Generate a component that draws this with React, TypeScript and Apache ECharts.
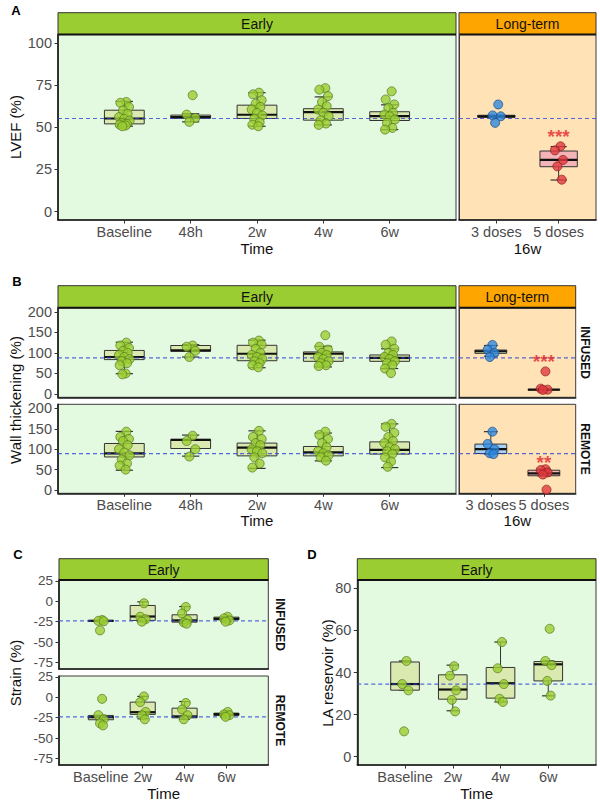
import React, { useEffect, useRef } from 'react';
import * as echarts from 'echarts';

// ---------- categories ----------
const EARLY_AB = ['Baseline', '48h', '2w', '4w', '6w'];
const EARLY_CD = ['Baseline', '2w', '4w', '6w'];
const LONG = ['3 doses', '5 doses'];

// ---------- box stats: [lowWhisker, q1, median, q3, highWhisker] ----------
const A_EARLY_BOX = [
  [50.6, 52, 55.2, 60.1, 65.3],
  [53.2, 55.3, 56, 57.2, 58],
  [50.6, 55.2, 57.4, 63.1, 70.5],
  [51.4, 54.2, 59, 61, 68],
  [48.6, 54, 56.6, 59.2, 63.3],
];
const A_LONG_BOX = [
  [56, 55.9, 56.4, 57.1, 57.1],
  [18.7, 26.6, 30.6, 35.9, 38.5],
];
const B_INF_EARLY_BOX = [
  [49.5, 83.7, 90, 106, 126],
  [90, 104, 106.3, 118, 120],
  [64, 81, 98, 118.5, 131],
  [66, 79.5, 98, 102.4, 116],
  [62, 79.5, 88, 95, 110],
];
const B_INF_LONG_BOX = [
  [92, 99, 104, 107, 118],
  [10, 10, 10.5, 11, 11],
];
const B_REM_EARLY_BOX = [
  [48.5, 81, 90, 114, 143.6],
  [83, 101.7, 123, 124, 134.6],
  [53, 83.7, 104, 115, 145],
  [71.4, 83.7, 92, 106.7, 139.6],
  [55, 88, 98.5, 118, 162],
];
const B_REM_LONG_BOX = [
  [88, 89.5, 100, 112.5, 143],
  [35, 35, 41, 48.5, 51],
];
const C_INF_BOX = [
  [-24.5, -24.5, -24, -23.5, -23.5],
  [-25, -23.5, -18.7, -5.2, -0.8],
  [-27, -25.6, -23.5, -16.6, -6.5],
  [-25, -22.7, -21.5, -19.5, -19],
];
const C_REM_BOX = [
  [-27.6, -27.6, -24.4, -22.3, -22.3],
  [-26.4, -21, -18.3, -6, 1],
  [-27, -25.2, -23.5, -13.4, -5.3],
  [-22.3, -22.3, -20.7, -19.5, -18],
];
const D_BOX = [
  [31.6, 31.6, 34.5, 45, 45.5],
  [21.8, 27.3, 31.9, 38.9, 43.5],
  [26, 27.8, 34.9, 42.4, 54.5],
  [28.9, 36, 43.9, 45.2, 45.5],
];

// ---------- individual points ----------
const A_EARLY_PTS = [
  [65, 64.5, 62, 60, 58, 56, 55, 54, 52.5, 52, 51.5, 51, 50.6],
  [69, 57.5, 55.5, 53.2],
  [70.5, 69.5, 66, 64, 62, 60.5, 58.5, 57, 55, 53, 51.5, 50.6],
  [73.2, 72.3, 68.5, 65, 62.5, 60.5, 58.6, 56.5, 54.2, 52.2, 51.4],
  [71.3, 66.5, 63.5, 61.5, 58.6, 57.5, 56.5, 54.6, 52.6, 49.6, 48.6],
];
const A_LONG_PTS = [
  [63.5, 57, 56.5, 52.6],
  [38.7, 36.3, 30.6, 26.8, 18.9],
];
const B_INF_EARLY_PTS = [
  [125, 118, 112, 105, 100, 95, 90, 85, 80, 75, 70, 50, 48],
  [118, 115, 105, 90],
  [130, 125, 120, 110, 100, 95, 90, 85, 80, 75, 70, 65],
  [143, 115, 108, 100, 95, 90, 85, 80, 75, 70, 68],
  [128, 120, 110, 100, 95, 90, 85, 80, 75, 70, 62, 51],
];
const B_INF_LONG_PTS = [
  [119.5, 108, 100, 90],
  [55, 13, 10.5, 10],
];
const B_REM_EARLY_PTS = [
  [143, 130, 125, 120, 110, 100, 92, 85, 75, 65, 60, 50],
  [133, 120, 100, 82],
  [145, 130, 125, 115, 110, 100, 95, 90, 80, 65, 55],
  [143, 135, 125, 115, 105, 95, 90, 85, 80, 72],
  [162, 155, 140, 130, 120, 115, 105, 100, 95, 88, 80, 70, 57],
];
const B_REM_LONG_PTS = [
  [143, 113, 100, 90, 88],
  [51, 49, 43, 38, 1],
];
const C_INF_PTS = [
  [-23, -24, -24.5, -35.7],
  [-2.5, -19, -22, -25],
  [-7, -15, -23, -26, -27.5],
  [-19, -21, -23.5, -25],
];
const C_REM_PTS = [
  [-2, -22, -27, -32, -34.5],
  [1, -6, -18, -22, -27],
  [-7, -15, -22, -27],
  [-18, -21, -22, -24],
];
const D_PTS = [
  [45.5, 34.5, 31.5, 12],
  [43, 38.5, 31.5, 27, 21.5],
  [54.5, 42, 34.5, 27.5, 26],
  [60.8, 45.5, 43.5, 36, 29],
];

// ---------- reference lines & significance ----------
const REF_A = 55.2;
const REF_B_INF = 88;
const REF_B_REM = 89;
const REF_C = -24;
const REF_D = 34.5;
const STARS_A = { cat: 2, y: 46.6, text: '***' };
const STARS_B_INF = { cat: 2, y: 89, text: '***' };
const STARS_B_REM = { cat: 2, y: 78, text: '**' };

// ---------- tick values ----------
const TICKS_A = [0, 25, 50, 75, 100];
const TICKS_B = [0, 50, 100, 150, 200];
const TICKS_C = [-75, -50, -25, 0, 25];
const TICKS_D = [0, 20, 40, 60, 80];

// ---------- styling ----------
const FONT = '"Liberation Sans", Arial, Helvetica, sans-serif';
const EARLY_BG = '#E4FAE0';
const LONG_BG = '#FFE3B6';
const GREEN = '#9ACD32';
const ORANGE = '#FFA500';
const GREEN_BOX = '#D9E9B0';
const BLUE_BOX = '#A9D3F5';
const RED_BOX = '#F4B4B7';
const GREEN_PT = { color: '#9ACD32', borderColor: '#55761c' };
const BLUE_PT = { color: '#2E88DE', borderColor: '#1b4a80' };
const RED_PT = { color: '#E0393E', borderColor: '#8b1a1a' };
const JITTER = [0.03, -0.06, 0.07, -0.02, 0.05, -0.08, 0.0, 0.08, -0.04, 0.04, -0.07, 0.02, -0.03];

type Panel = {
  rect: [number, number, number, number];
  cats: string[];
  xMin: number;
  xMax: number;
  yMin: number;
  yMax: number;
  yTicks: number[];
  yLabelSize?: number;
  box: number[][];
  pts: number[][];
  ref: number;
  bg: string;
  boxFills: string[];
  ptStyles: { color: string; borderColor: string }[];
  showX: boolean;
  xName?: string;
  xNameGap?: number;
  stars?: { cat: number; y: number; text: string };
};

function buildOption() {
  const grids: any[] = [];
  const xAxes: any[] = [];
  const yAxes: any[] = [];
  const series: any[] = [];

  const greens5 = [GREEN_BOX, GREEN_BOX, GREEN_BOX, GREEN_BOX, GREEN_BOX];
  const gpts5 = [GREEN_PT, GREEN_PT, GREEN_PT, GREEN_PT, GREEN_PT];

  const panels: Panel[] = [
    { rect: [58, 34.5, 398, 185.5], cats: EARLY_AB, xMin: 0, xMax: 6, yMin: -5, yMax: 105, yTicks: TICKS_A, box: A_EARLY_BOX, pts: A_EARLY_PTS, ref: REF_A, bg: EARLY_BG, boxFills: greens5, ptStyles: gpts5, showX: true, xName: 'Time', xNameGap: 21 },
    { rect: [459, 34.5, 137, 185.5], cats: LONG, xMin: 0.4, xMax: 2.6, yMin: -5, yMax: 105, yTicks: [], box: A_LONG_BOX, pts: A_LONG_PTS, ref: REF_A, bg: LONG_BG, boxFills: [GREEN_BOX, RED_BOX], ptStyles: [BLUE_PT, RED_PT], showX: true, xName: '16w', xNameGap: 21, stars: STARS_A },
    { rect: [58, 307.7, 398, 89.6], cats: EARLY_AB, xMin: 0, xMax: 6, yMin: -8, yMax: 210, yTicks: TICKS_B, box: B_INF_EARLY_BOX, pts: B_INF_EARLY_PTS, ref: REF_B_INF, bg: EARLY_BG, boxFills: greens5, ptStyles: gpts5, showX: false },
    { rect: [459, 307.7, 116.7, 89.6], cats: LONG, xMin: 0.4, xMax: 2.6, yMin: -8, yMax: 210, yTicks: [], box: B_INF_LONG_BOX, pts: B_INF_LONG_PTS, ref: REF_B_INF, bg: LONG_BG, boxFills: [GREEN_BOX, RED_BOX], ptStyles: [BLUE_PT, RED_PT], showX: false, stars: STARS_B_INF },
    { rect: [58, 404.3, 398, 89], cats: EARLY_AB, xMin: 0, xMax: 6, yMin: -8, yMax: 210, yTicks: TICKS_B, box: B_REM_EARLY_BOX, pts: B_REM_EARLY_PTS, ref: REF_B_REM, bg: EARLY_BG, boxFills: greens5, ptStyles: gpts5, showX: true, xName: 'Time', xNameGap: 19 },
    { rect: [459, 404.3, 116.7, 89], cats: LONG, xMin: 0.4, xMax: 2.6, yMin: -8, yMax: 210, yTicks: [], box: B_REM_LONG_BOX, pts: B_REM_LONG_PTS, ref: REF_B_REM, bg: LONG_BG, boxFills: [BLUE_BOX, RED_BOX], ptStyles: [BLUE_PT, RED_PT], showX: true, xName: '16w', xNameGap: 19, stars: STARS_B_REM },
    { rect: [59, 580, 209.3, 89], cats: EARLY_CD, xMin: 0, xMax: 5, yMin: -83, yMax: 26, yTicks: TICKS_C, yLabelSize: 13.5, box: C_INF_BOX, pts: C_INF_PTS, ref: REF_C, bg: EARLY_BG, boxFills: greens5, ptStyles: gpts5, showX: false },
    { rect: [59, 676, 209.3, 89], cats: EARLY_CD, xMin: 0, xMax: 5, yMin: -83, yMax: 26, yTicks: TICKS_C, yLabelSize: 13.5, box: C_REM_BOX, pts: C_REM_PTS, ref: REF_C, bg: EARLY_BG, boxFills: greens5, ptStyles: gpts5, showX: true, xName: 'Time', xNameGap: 21 },
    { rect: [357.3, 580, 238.7, 185], cats: EARLY_CD, xMin: 0, xMax: 5, yMin: -4, yMax: 84, yTicks: TICKS_D, box: D_BOX, pts: D_PTS, ref: REF_D, bg: EARLY_BG, boxFills: greens5, ptStyles: gpts5, showX: true, xName: 'Time', xNameGap: 21 },
  ];

  panels.forEach((p, i) => {
    const [left, top, width, height] = p.rect;
    grids.push({
      left, top, width, height,
      show: true,
      backgroundColor: p.bg,
      borderColor: '#3a3a3a',
      borderWidth: 1,
      containLabel: false,
      outerBoundsMode: 'none',
    });
    const catTicks = p.cats.map((_, k) => k + 1);
    xAxes.push({
      type: 'value',
      gridIndex: i,
      min: p.xMin,
      max: p.xMax,
      splitLine: { show: false },
      axisLine: { show: true, onZero: false, lineStyle: { color: '#1a1a1a', width: 1.6 } },
      axisTick: { show: p.showX, customValues: catTicks, length: 3.5, lineStyle: { color: '#333' } },
      axisLabel: {
        show: p.showX,
        customValues: catTicks,
        formatter: (v: number) => p.cats[Math.round(v) - 1] ?? '',
        margin: 4,
        fontSize: 14.5,
        color: '#4d4d4d',
        fontFamily: FONT,
      },
      name: p.xName || '',
      nameLocation: 'middle',
      nameGap: p.xNameGap || 20,
      nameTextStyle: { fontSize: 15, color: '#111', fontFamily: FONT },
    });
    const hasY = p.yTicks.length > 0;
    const ySize = p.yLabelSize || 14.5;
    yAxes.push({
      type: 'value',
      gridIndex: i,
      min: p.yMin,
      max: p.yMax,
      splitLine: { show: false },
      axisLine: { show: true, onZero: false, lineStyle: { color: hasY ? '#1a1a1a' : '#3a3a3a', width: hasY ? 1.6 : 1 } },
      axisTick: { show: hasY, customValues: p.yTicks, length: 3.5, lineStyle: { color: '#333' } },
      axisLabel: {
        show: hasY,
        customValues: p.yTicks,
        margin: 6,
        fontSize: ySize,
        lineHeight: ySize - 1.5,
        color: '#4d4d4d',
        fontFamily: FONT,
      },
    });

    // boxes
    const fills = p.boxFills;
    series.push({
      type: 'custom',
      xAxisIndex: i,
      yAxisIndex: i,
      silent: true,
      z: 2,
      data: p.box.map((b, k) => [k + 1, ...b]),
      encode: { x: 0, y: [1, 2, 3, 4, 5] },
      renderItem: (params: any, api: any) => {
        const x = api.value(0);
        const lo = api.coord([x, api.value(1)]);
        const q1 = api.coord([x, api.value(2)]);
        const md = api.coord([x, api.value(3)]);
        const q3 = api.coord([x, api.value(4)]);
        const hi = api.coord([x, api.value(5)]);
        const bw = api.size([0.6, 0])[0];
        const cw = api.size([0.26, 0])[0];
        const cx = lo[0];
        const stroke = '#333';
        const fill = fills[Math.round(x) - 1];
        return {
          type: 'group',
          children: [
            { type: 'line', shape: { x1: cx, y1: hi[1], x2: cx, y2: q3[1] }, style: { stroke, lineWidth: 1 } },
            { type: 'line', shape: { x1: cx, y1: q1[1], x2: cx, y2: lo[1] }, style: { stroke, lineWidth: 1 } },
            { type: 'line', shape: { x1: cx - cw / 2, y1: hi[1], x2: cx + cw / 2, y2: hi[1] }, style: { stroke, lineWidth: 1.2 } },
            { type: 'line', shape: { x1: cx - cw / 2, y1: lo[1], x2: cx + cw / 2, y2: lo[1] }, style: { stroke, lineWidth: 1.2 } },
            { type: 'rect', shape: { x: cx - bw / 2, y: q3[1], width: bw, height: Math.max(q1[1] - q3[1], 0.5) }, style: { fill, stroke, lineWidth: 1 } },
            { type: 'line', shape: { x1: cx - bw / 2, y1: md[1], x2: cx + bw / 2, y2: md[1] }, style: { stroke: '#111', lineWidth: 2.2 } },
          ],
        };
      },
    });

    // reference dashed line
    series.push({
      type: 'line',
      xAxisIndex: i,
      yAxisIndex: i,
      silent: true,
      z: 3,
      symbol: 'none',
      data: [[p.xMin, p.ref], [p.xMax, p.ref]],
      lineStyle: { color: 'rgba(45,70,215,0.8)', width: 1.2, type: [4, 3] },
    });

    // points
    const ptsData: any[] = [];
    p.pts.forEach((arr, k) => {
      arr.forEach((v, j) => {
        const st = p.ptStyles[k];
        ptsData.push({
          value: [k + 1 + JITTER[j % JITTER.length], v],
          itemStyle: { color: st.color, borderColor: st.borderColor, borderWidth: 0.9 },
        });
      });
    });
    series.push({
      type: 'scatter',
      xAxisIndex: i,
      yAxisIndex: i,
      silent: true,
      z: 4,
      symbol: 'circle',
      symbolSize: 9,
      data: ptsData,
    });

    if (p.stars) {
      series.push({
        type: 'scatter',
        xAxisIndex: i,
        yAxisIndex: i,
        silent: true,
        z: 5,
        symbol: 'circle',
        symbolSize: 1,
        itemStyle: { color: 'transparent' },
        data: [[p.stars.cat, p.stars.y]],
        label: {
          show: true,
          position: 'inside',
          offset: [0, 4],
          formatter: p.stars.text,
          color: '#E3262C',
          fontSize: 19,
          fontWeight: 'bold',
          fontFamily: FONT,
        },
      });
    }
  });

  // strips & titles
  const strip = (x: number, y: number, w: number, h: number, fill: string, text: string) => ({
    type: 'group',
    children: [
      { type: 'rect', shape: { x, y, width: w, height: h }, style: { fill, stroke: '#333', lineWidth: 1 } },
      { type: 'line', shape: { x1: x, y1: y + h, x2: x + w, y2: y + h }, style: { stroke: '#111', lineWidth: 2 } },
      { type: 'text', x: x + w / 2, y: y + h / 2 + 0.5, style: { text, fill: '#111', fontSize: 14, fontFamily: FONT, align: 'center', verticalAlign: 'middle' } },
    ],
  });
  const vtext = (x: number, y: number, text: string, rot: number, size: number, weight = 'normal') => ({
    type: 'text',
    x,
    y,
    rotation: rot,
    style: { text, fill: '#111', fontSize: size, fontWeight: weight, fontFamily: FONT, align: 'center', verticalAlign: 'middle' },
  });
  const letter = (x: number, y: number, text: string) => ({
    type: 'text',
    x,
    y,
    style: { text, fill: '#000', fontSize: 13, fontWeight: 'bold', fontFamily: FONT, align: 'center', verticalAlign: 'middle' },
  });

  const graphic: any[] = [
    strip(58, 12.7, 398, 21.8, GREEN, 'Early'),
    strip(459, 12.7, 137, 21.8, ORANGE, 'Long-term'),
    strip(58, 285.7, 398, 22, GREEN, 'Early'),
    strip(459, 285.7, 116.7, 22, ORANGE, 'Long-term'),
    strip(59, 558.7, 209.3, 21.3, GREEN, 'Early'),
    strip(357.3, 558.7, 238.7, 21.3, GREEN, 'Early'),
    letter(16, 10, 'A'),
    letter(17, 281, 'B'),
    letter(18, 554, 'C'),
    letter(312, 554, 'D'),
    vtext(15, 127, 'LVEF (%)', Math.PI / 2, 15),
    vtext(15, 400, 'Wall thickening (%)', Math.PI / 2, 15),
    vtext(15, 673, 'Strain (%)', Math.PI / 2, 15),
    vtext(327, 673, 'LA reservoir (%)', Math.PI / 2, 15),
    vtext(585, 352.5, 'INFUSED', -Math.PI / 2, 12, 'bold'),
    vtext(585, 449, 'REMOTE', -Math.PI / 2, 12, 'bold'),
    vtext(280, 624.5, 'INFUSED', -Math.PI / 2, 12, 'bold'),
    vtext(280, 720.5, 'REMOTE', -Math.PI / 2, 12, 'bold'),
  ];

  return {
    animation: false,
    backgroundColor: '#ffffff',
    textStyle: { fontFamily: FONT },
    grid: grids,
    xAxis: xAxes,
    yAxis: yAxes,
    series,
    graphic,
  };
}

export default function App() {
  const ref = useRef<HTMLDivElement>(null);
  useEffect(() => {
    if (!ref.current) return;
    const chart = echarts.init(ref.current, null, { renderer: 'svg' });
    chart.setOption(buildOption() as any);
    return () => chart.dispose();
  }, []);
  return (
    <div
      ref={ref}
      style={{ position: 'fixed', left: 0, top: 0, width: 600, height: 805, background: '#fff' }}
    />
  );
}
